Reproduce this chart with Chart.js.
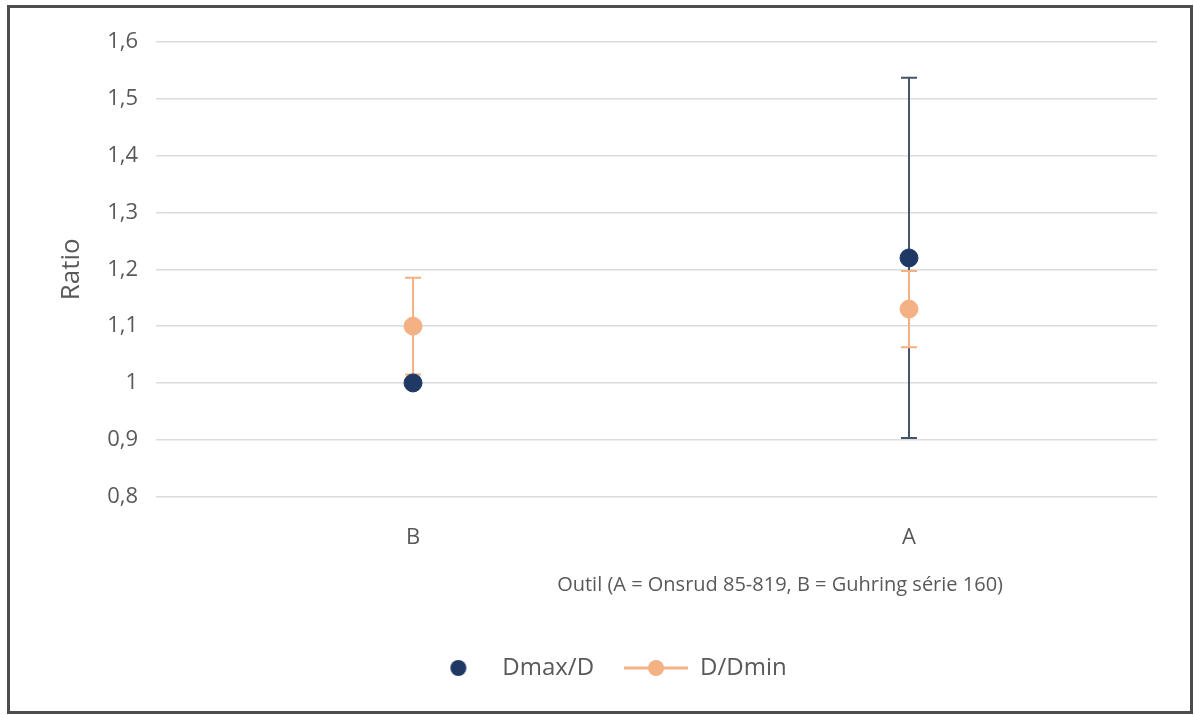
<!DOCTYPE html>
<html>
<head>
<meta charset="utf-8">
<script src="https://cdn.jsdelivr.net/npm/chart.js@4.4.1/dist/chart.umd.min.js"></script>
<style>
    html, body { margin: 0; padding: 0; background: #ffffff; }
    #frame {
        position: absolute;
        left: 7px; top: 5px;
        width: 1180px; height: 703px;
        border: 3px solid #4d4d4d;
        background: #ffffff;
    }
    #frame canvas { display: block; }
</style>
</head>
<body>
<div id="frame"><canvas id="ratioChart" width="1180" height="703"></canvas></div>
<script>
// --- chart data ---
const categories = ['B', 'A'];
const dmaxD = [1.0, 1.22];
const dmaxDErr = [0, 0.317];
const dDmin = [1.1, 1.13];
const dDminErr = [0.085, 0.067];
const xAxisTitle = 'Outil (A = Onsrud 85-819, B = Guhring série 160)';

const navy = '#1f3864';
const orange = '#f4b183';
const textGray = '#595959';
const fontFamily = "'Open Sans', 'Noto Sans', sans-serif";

// small canvases used as legend symbols
function legendSymbol(withLine, color) {
    const c = document.createElement('canvas');
    c.width = 64; c.height = 22;
    const g = c.getContext('2d');
    if (withLine) {
        g.strokeStyle = color;
        g.lineWidth = 3;
        g.beginPath();
        g.moveTo(0, 11);
        g.lineTo(64, 11);
        g.stroke();
    }
    g.fillStyle = color;
    g.beginPath();
    g.arc(32, 11, 8, 0, Math.PI * 2);
    g.fill();
    return c;
}

// --- error bars, drawn under the points ---
const errorBarPlugin = {
    id: 'errorBars',
    beforeDatasetsDraw(chart) {
        const ctx = chart.ctx;
        const yScale = chart.scales.y;
        chart.data.datasets.forEach((ds, di) => {
            const meta = chart.getDatasetMeta(di);
            if (!ds.errors) return;
            ctx.save();
            ctx.strokeStyle = ds.errorColor;
            ctx.lineWidth = 2;
            meta.data.forEach((pt, i) => {
                const err = ds.errors[i];
                if (!err) return;
                const yTop = yScale.getPixelForValue(ds.data[i] + err);
                const yBot = yScale.getPixelForValue(ds.data[i] - err);
                ctx.beginPath();
                ctx.moveTo(pt.x, yTop);
                ctx.lineTo(pt.x, yBot);
                ctx.moveTo(pt.x - 8, yTop);
                ctx.lineTo(pt.x + 8, yTop);
                ctx.moveTo(pt.x - 8, yBot);
                ctx.lineTo(pt.x + 8, yBot);
                ctx.stroke();
            });
            ctx.restore();
        });
    }
};

// --- x axis title, sits right of centre like in the original ---
const xTitlePlugin = {
    id: 'xTitle',
    afterDraw(chart, args, opts) {
        const ctx = chart.ctx;
        const area = chart.chartArea;
        const xScale = chart.scales.x;
        ctx.save();
        ctx.font = `20px ${fontFamily}`;
        ctx.fillStyle = textGray;
        ctx.textAlign = 'center';
        ctx.textBaseline = 'middle';
        ctx.fillText(opts.text, area.left + area.width * opts.anchor, xScale.bottom - 41);
        ctx.restore();
    }
};

const ctx = document.getElementById('ratioChart').getContext('2d');
new Chart(ctx, {
    type: 'line',
    data: {
        labels: categories,
        datasets: [
            {
                label: 'Dmax/D',
                data: dmaxD,
                errors: dmaxDErr,
                errorColor: '#44546a',
                showLine: false,
                pointRadius: 9,
                pointBackgroundColor: navy,
                pointBorderColor: navy,
                pointStyle: 'circle',
                legendSymbol: legendSymbol(false, navy)
            },
            {
                label: 'D/Dmin',
                data: dDmin,
                errors: dDminErr,
                errorColor: orange,
                showLine: false,
                pointRadius: 9,
                pointBackgroundColor: orange,
                pointBorderColor: orange,
                pointStyle: 'circle',
                legendSymbol: legendSymbol(true, orange)
            }
        ]
    },
    options: {
        responsive: false,
        animation: false,
        layout: { padding: { top: 34, right: 33, left: 46, bottom: 21 } },
        plugins: {
            tooltip: { enabled: false },
            xTitle: { text: xAxisTitle, anchor: 0.62 },
            legend: {
                position: 'bottom',
                labels: {
                    color: textGray,
                    font: { family: fontFamily, size: 24 },
                    usePointStyle: true,
                    pointStyleWidth: 64,
                    padding: 30,
                    generateLabels(chart) {
                        return chart.data.datasets.map((ds, i) => ({
                            text: ds.label,
                            fontColor: textGray,
                            pointStyle: ds.legendSymbol,
                            lineWidth: 0,
                            datasetIndex: i
                        }));
                    }
                }
            }
        },
        scales: {
            x: {
                offset: true,
                grid: { display: false, drawTicks: false },
                border: { display: false },
                ticks: {
                    color: textGray,
                    font: { family: fontFamily, size: 22 },
                    padding: 28
                },
                // room for the title drawn by xTitlePlugin
                afterFit(scale) { scale.height += 47; }
            },
            y: {
                min: 0.8,
                max: 1.6,
                grid: { color: '#dcdcdc', lineWidth: 1.5, tickLength: 9, tickColor: '#dcdcdc' },
                border: { display: false },
                ticks: {
                    stepSize: 0.1,
                    color: textGray,
                    font: { family: fontFamily, size: 22 },
                    padding: 18,
                    callback: (v) => String(Math.round(v * 10) / 10).replace('.', ',')
                },
                title: {
                    display: true,
                    text: 'Ratio',
                    color: textGray,
                    font: { family: fontFamily, size: 26 },
                    padding: { top: 0, bottom: 2 }
                }
            }
        }
    },
    plugins: [errorBarPlugin, xTitlePlugin]
});
</script>
</body>
</html>
